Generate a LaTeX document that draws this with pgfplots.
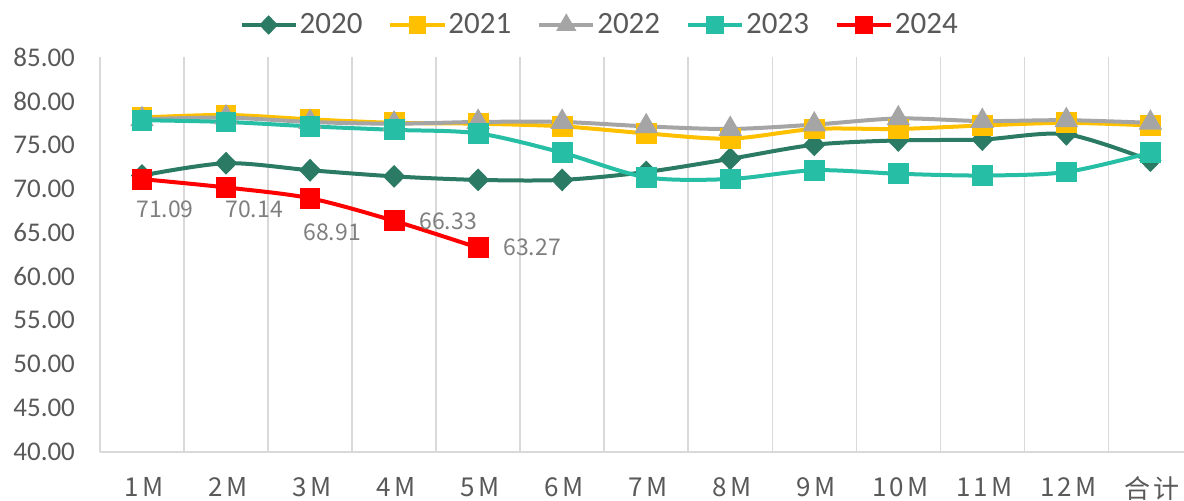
\documentclass[border=0pt]{standalone}
\usepackage{fontspec}
\setmainfont{Carlito}
\newfontfamily\cjk{Noto Sans CJK SC}
\newfontfamily\cjkwide[LetterSpace=12]{Noto Sans CJK SC}
\usepackage{pgfplots}
\pgfplotsset{compat=1.18}

\definecolor{c2020}{HTML}{2A7A64}
\definecolor{c2021}{HTML}{FFC000}
\definecolor{c2022}{HTML}{A5A5A5}
\definecolor{c2023}{HTML}{26BFA5}
\definecolor{c2024}{HTML}{FF0000}
\definecolor{gridc}{HTML}{D9D9D9}
\definecolor{txt}{HTML}{595959}
\definecolor{lbl}{HTML}{7F7F7F}

% 2024 with label offsets
\pgfplotstableread{
x  y      dx    dy
0  71.09  11.5  -15
1  70.14  14    -11
2  68.91  11    -17
3  66.33  27    0
4  63.27  27    0
}\dataB

\begin{document}
\begin{tikzpicture}
\useasboundingbox (-50pt,-24pt) rectangle (542pt,226pt);
\begin{axis}[
    scale only axis, width=542pt, height=197.5pt,
    at={(0,0)}, anchor=south west,
    xmin=-0.5, xmax=12.4, ymin=40, ymax=85,
    ytick={40,45,...,85},
    xtick={0,...,12},
    xticklabels={1M,2M,3M,4M,5M,6M,7M,8M,9M,10M,11M,12M,合计},
    minor xtick={0.5,1.5,...,11.5},
    xminorgrids, major tick length=0, minor tick length=0,
    minor grid style={gridc, line width=0.75pt},
    axis x line*=bottom, axis y line*=left,
    axis line style={-, gridc, line width=0.75pt},
    yticklabel style={/pgf/number format/.cd, fixed, fixed zerofill, precision=2,
        /tikz/.cd, font=\fontsize{13.5}{16}\selectfont, text=txt, xshift=-9pt},
    /pgf/number format/assume math mode=true,
    xticklabel style={font=\cjkwide\fontsize{13}{15}\selectfont, text=txt, yshift=-9pt, xshift=1pt},
    legend columns=5,
    legend style={at={(0.461,1)}, anchor=center, yshift=16pt, draw=none, fill=none,
        font=\fontsize{15.5}{18}\selectfont, text=txt,
        /tikz/every even column/.append style={column sep=12pt},
        nodes={inner sep=1pt}},
    legend image code/.code={\draw[#1, mark repeat=2, mark phase=2, every mark/.append style={scale=0.8}]
        plot coordinates {(0pt,0pt) (13.5pt,0pt) (27pt,0pt)};},
    every axis plot/.append style={line width=2pt, smooth, tension=0.5},
    clip=false,
]
\addplot[c2020, mark=diamond*, mark size=4.3pt, mark options={solid, xscale=1.3}] coordinates {
(0,71.5) (1,72.9) (2,72.1) (3,71.4) (4,71.0) (5,71.0) (6,71.9) (7,73.4) (8,75.0) (9,75.5) (10,75.6) (11,76.2) (12,73.2)};
\addlegendentry{2020}
\addplot[c2021, mark=square*, mark size=4.2pt, mark options={solid}] coordinates {
(0,78.1) (1,78.4) (2,77.9) (3,77.5) (4,77.4) (5,77.1) (6,76.3) (7,75.7) (8,76.8) (9,76.8) (10,77.2) (11,77.5) (12,77.2)};
\addlegendentry{2021}
\addplot[c2022, mark=triangle*, mark size=4.8pt, mark options={solid}] coordinates {
(0,77.9) (1,78.1) (2,77.6) (3,77.4) (4,77.6) (5,77.6) (6,77.1) (7,76.8) (8,77.3) (9,78.0) (10,77.7) (11,77.8) (12,77.5)};
\addlegendentry{2022}
\addplot[c2023, mark=square*, mark size=4.2pt, mark options={solid}] coordinates {
(0,77.8) (1,77.6) (2,77.1) (3,76.7) (4,76.3) (5,74.1) (6,71.3) (7,71.1) (8,72.1) (9,71.7) (10,71.5) (11,71.9) (12,74.1)};
\addlegendentry{2023}
\addplot[c2024, mark=square*, mark size=4.2pt, mark options={solid},
    nodes near coords, point meta=explicit,
    visualization depends on={\thisrow{dx} \as \dx},
    visualization depends on={\thisrow{dy} \as \dy},
    nodes near coords style={anchor=center, xshift=\dx pt, yshift=\dy pt,
        font=\cjk\fontsize{11.5}{14}\selectfont, text=lbl,
        /pgf/number format/.cd, fixed, fixed zerofill, precision=2}
] table[x=x, y=y, meta=y] {\dataB};
\addlegendentry{2024}
\end{axis}
\end{tikzpicture}
\end{document}
